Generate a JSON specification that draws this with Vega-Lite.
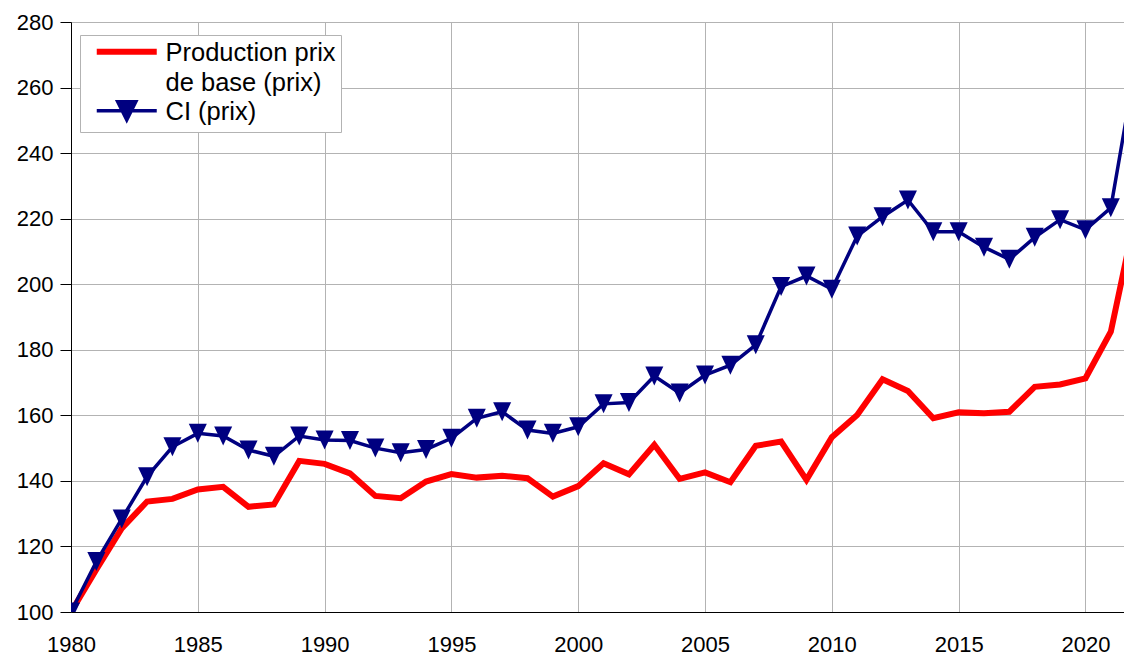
{
  "$schema": "https://vega.github.io/schema/vega-lite/v6.json",
  "width": 1053,
  "height": 590,
  "autosize": "none",
  "padding": {"left": 71, "top": 22, "right": 0, "bottom": 45},
  "background": "white",
  "config": {"font": "Liberation Sans", "view": {"stroke": null}},
  "data": {"values": [
    {"annee": 1980, "serie": "Production prix de base (prix)", "valeur": 100},
    {"annee": 1981, "serie": "Production prix de base (prix)", "valeur": 113},
    {"annee": 1982, "serie": "Production prix de base (prix)", "valeur": 125.5},
    {"annee": 1983, "serie": "Production prix de base (prix)", "valeur": 133.7},
    {"annee": 1984, "serie": "Production prix de base (prix)", "valeur": 134.5},
    {"annee": 1985, "serie": "Production prix de base (prix)", "valeur": 137.4},
    {"annee": 1986, "serie": "Production prix de base (prix)", "valeur": 138.2},
    {"annee": 1987, "serie": "Production prix de base (prix)", "valeur": 132.1},
    {"annee": 1988, "serie": "Production prix de base (prix)", "valeur": 132.8},
    {"annee": 1989, "serie": "Production prix de base (prix)", "valeur": 146.1},
    {"annee": 1990, "serie": "Production prix de base (prix)", "valeur": 145.2},
    {"annee": 1991, "serie": "Production prix de base (prix)", "valeur": 142.3},
    {"annee": 1992, "serie": "Production prix de base (prix)", "valeur": 135.4},
    {"annee": 1993, "serie": "Production prix de base (prix)", "valeur": 134.7},
    {"annee": 1994, "serie": "Production prix de base (prix)", "valeur": 139.8},
    {"annee": 1995, "serie": "Production prix de base (prix)", "valeur": 142.1},
    {"annee": 1996, "serie": "Production prix de base (prix)", "valeur": 141},
    {"annee": 1997, "serie": "Production prix de base (prix)", "valeur": 141.6},
    {"annee": 1998, "serie": "Production prix de base (prix)", "valeur": 140.8},
    {"annee": 1999, "serie": "Production prix de base (prix)", "valeur": 135.2},
    {"annee": 2000, "serie": "Production prix de base (prix)", "valeur": 138.4},
    {"annee": 2001, "serie": "Production prix de base (prix)", "valeur": 145.4},
    {"annee": 2002, "serie": "Production prix de base (prix)", "valeur": 142},
    {"annee": 2003, "serie": "Production prix de base (prix)", "valeur": 151},
    {"annee": 2004, "serie": "Production prix de base (prix)", "valeur": 140.6},
    {"annee": 2005, "serie": "Production prix de base (prix)", "valeur": 142.6},
    {"annee": 2006, "serie": "Production prix de base (prix)", "valeur": 139.6},
    {"annee": 2007, "serie": "Production prix de base (prix)", "valeur": 150.7},
    {"annee": 2008, "serie": "Production prix de base (prix)", "valeur": 152},
    {"annee": 2009, "serie": "Production prix de base (prix)", "valeur": 140.3},
    {"annee": 2010, "serie": "Production prix de base (prix)", "valeur": 153.3},
    {"annee": 2011, "serie": "Production prix de base (prix)", "valeur": 160.1},
    {"annee": 2012, "serie": "Production prix de base (prix)", "valeur": 171},
    {"annee": 2013, "serie": "Production prix de base (prix)", "valeur": 167.4},
    {"annee": 2014, "serie": "Production prix de base (prix)", "valeur": 159.1},
    {"annee": 2015, "serie": "Production prix de base (prix)", "valeur": 160.9},
    {"annee": 2016, "serie": "Production prix de base (prix)", "valeur": 160.6},
    {"annee": 2017, "serie": "Production prix de base (prix)", "valeur": 161.1},
    {"annee": 2018, "serie": "Production prix de base (prix)", "valeur": 168.7},
    {"annee": 2019, "serie": "Production prix de base (prix)", "valeur": 169.4},
    {"annee": 2020, "serie": "Production prix de base (prix)", "valeur": 171.3},
    {"annee": 2021, "serie": "Production prix de base (prix)", "valeur": 185.5},
    {"annee": 2022, "serie": "Production prix de base (prix)", "valeur": 222},
    {"annee": 1980, "serie": "CI (prix)", "valeur": 100},
    {"annee": 1981, "serie": "CI (prix)", "valeur": 115.4},
    {"annee": 1982, "serie": "CI (prix)", "valeur": 128.4},
    {"annee": 1983, "serie": "CI (prix)", "valeur": 141.3},
    {"annee": 1984, "serie": "CI (prix)", "valeur": 150.4},
    {"annee": 1985, "serie": "CI (prix)", "valeur": 154.5},
    {"annee": 1986, "serie": "CI (prix)", "valeur": 153.7},
    {"annee": 1987, "serie": "CI (prix)", "valeur": 149.4},
    {"annee": 1988, "serie": "CI (prix)", "valeur": 147.5},
    {"annee": 1989, "serie": "CI (prix)", "valeur": 153.7},
    {"annee": 1990, "serie": "CI (prix)", "valeur": 152.5},
    {"annee": 1991, "serie": "CI (prix)", "valeur": 152.3},
    {"annee": 1992, "serie": "CI (prix)", "valeur": 150},
    {"annee": 1993, "serie": "CI (prix)", "valeur": 148.6},
    {"annee": 1994, "serie": "CI (prix)", "valeur": 149.6},
    {"annee": 1995, "serie": "CI (prix)", "valeur": 153},
    {"annee": 1996, "serie": "CI (prix)", "valeur": 159.1},
    {"annee": 1997, "serie": "CI (prix)", "valeur": 161.1},
    {"annee": 1998, "serie": "CI (prix)", "valeur": 155.5},
    {"annee": 1999, "serie": "CI (prix)", "valeur": 154.5},
    {"annee": 2000, "serie": "CI (prix)", "valeur": 156.5},
    {"annee": 2001, "serie": "CI (prix)", "valeur": 163.5},
    {"annee": 2002, "serie": "CI (prix)", "valeur": 163.9},
    {"annee": 2003, "serie": "CI (prix)", "valeur": 172},
    {"annee": 2004, "serie": "CI (prix)", "valeur": 166.8},
    {"annee": 2005, "serie": "CI (prix)", "valeur": 172.3},
    {"annee": 2006, "serie": "CI (prix)", "valeur": 175.3},
    {"annee": 2007, "serie": "CI (prix)", "valeur": 181.5},
    {"annee": 2008, "serie": "CI (prix)", "valeur": 199.3},
    {"annee": 2009, "serie": "CI (prix)", "valeur": 202.5},
    {"annee": 2010, "serie": "CI (prix)", "valeur": 198.5},
    {"annee": 2011, "serie": "CI (prix)", "valeur": 214.7},
    {"annee": 2012, "serie": "CI (prix)", "valeur": 220.6},
    {"annee": 2013, "serie": "CI (prix)", "valeur": 225.7},
    {"annee": 2014, "serie": "CI (prix)", "valeur": 216},
    {"annee": 2015, "serie": "CI (prix)", "valeur": 216},
    {"annee": 2016, "serie": "CI (prix)", "valeur": 211.3},
    {"annee": 2017, "serie": "CI (prix)", "valeur": 207.6},
    {"annee": 2018, "serie": "CI (prix)", "valeur": 214.3},
    {"annee": 2019, "serie": "CI (prix)", "valeur": 219.7},
    {"annee": 2020, "serie": "CI (prix)", "valeur": 216.6},
    {"annee": 2021, "serie": "CI (prix)", "valeur": 223.3},
    {"annee": 2022, "serie": "CI (prix)", "valeur": 268}
  ]},
  "encoding": {
    "x": {
      "field": "annee", "type": "quantitative",
      "scale": {"domain": [1980, 2021.52], "nice": false, "zero": false},
      "axis": {
        "title": null, "values": [1980, 1985, 1990, 1995, 2000, 2005, 2010, 2015, 2020],
        "format": "d", "tickSize": 0, "labelPadding": 22, "labelFontSize": 22, "labelColor": "#000000",
        "domainColor": "#000000", "domainWidth": 1, "gridColor": "#b3b3b3", "gridWidth": 1, "labelFlush": false
      }
    },
    "y": {
      "field": "valeur", "type": "quantitative",
      "scale": {"domain": [100, 280], "nice": false, "zero": false},
      "axis": {
        "title": null, "values": [100, 120, 140, 160, 180, 200, 220, 240, 260, 280],
        "tickSize": 11, "tickColor": "#000000", "labelPadding": 7, "labelFontSize": 22, "labelColor": "#000000",
        "domainColor": "#000000", "domainWidth": 1, "gridColor": "#b3b3b3", "gridWidth": 1, "labelFlush": false
      }
    }
  },
  "layer": [
    {
      "mark": {"type": "line", "clip": true, "strokeJoin": "miter"},
      "encoding": {
        "color": {
          "field": "serie", "type": "nominal",
          "scale": {"domain": ["Production prix de base (prix)", "CI (prix)"], "range": ["#ff0000", "#000080"]},
          "legend": {
            "title": null, "orient": "none", "legendX": 9, "legendY": 13,
            "padding": 5, "fillColor": "#ffffff", "strokeColor": "#b3b3b3",
            "symbolType": "M-0.2,-0.2H11.8", "symbolSize": 100, "symbolStrokeWidth": 5,
            "labelFontSize": 25.5, "labelColor": "#000000", "labelLimit": 400, "labelOffset": 55,
            "labelBaseline": "top", "rowPadding": -3,
            "labelExpr": "datum.label == 'Production prix de base (prix)' ? ['Production prix\u00a0\u00a0', 'de base (prix)'] : datum.label",
            "encode": {
              "symbols": {"update": {
                "shape": {"signal": "datum.value == 'CI (prix)' ? 'M-0.2,-0.2H11.8M4,-2H7.6L5.8,1.6Z' : 'M-0.2,-0.2H11.8'"},
                "fill": {"signal": "datum.value == 'CI (prix)' ? '#000080' : 'transparent'"},
                "strokeWidth": {"signal": "datum.value == 'CI (prix)' ? 3 : 6"}
              }},
              "labels": {"update": {"lineHeight": {"value": 30}, "dy": {"value": -12}}}
            }
          }
        },
        "strokeWidth": {
          "field": "serie", "type": "nominal",
          "scale": {"domain": ["Production prix de base (prix)", "CI (prix)"], "range": [6, 3.5]},
          "legend": null
        }
      }
    },
    {
      "transform": [{"filter": "datum.serie == 'CI (prix)'"}],
      "mark": {"type": "point", "filled": true, "clip": true, "shape": "M-0.95,-1L0.95,-1L0,1Z", "size": 361, "opacity": 1, "color": "#000080"}
    }
  ]
}
